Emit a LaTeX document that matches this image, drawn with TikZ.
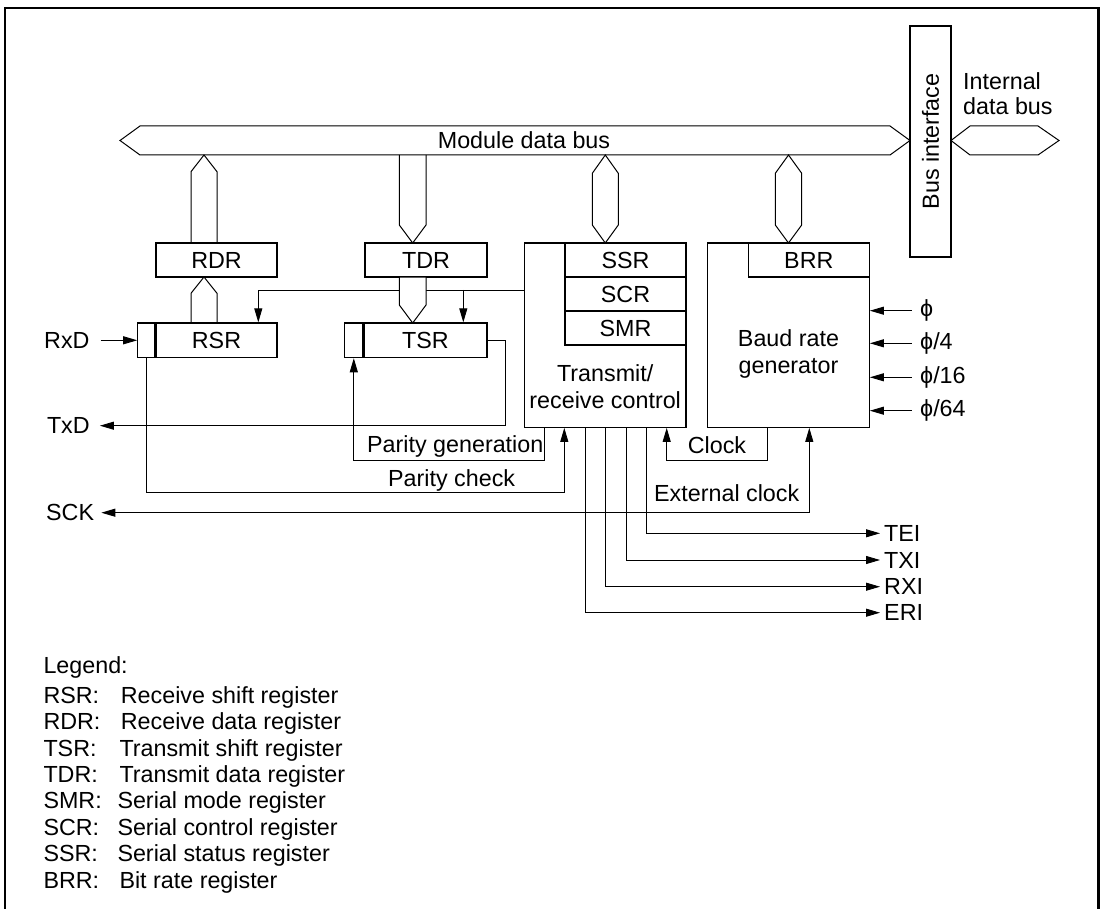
\documentclass[tikz,border=0pt]{standalone}
\usepackage{fontspec}
\setmainfont{Liberation Sans}
\usetikzlibrary{arrows.meta}
\begin{document}
\begin{tikzpicture}[x=1pt,y=-1pt,
  font=\fontsize{23.3}{27}\selectfont,
  box/.style={draw, line width=1.2pt, inner sep=0pt},
  lbl/.style={inner sep=0pt},
  conn/.style={line width=0.9pt},
  busl/.style={line width=1pt, fill=white},
  arr/.style={-{Triangle[length=14pt,width=8pt]}},
  darr/.style={{Triangle[length=14pt,width=8pt]}-{Triangle[length=14pt,width=8pt]}}]
\useasboundingbox (0,0) rectangle (1100,909);
\draw[line width=2.7pt] (5,8) rectangle (1098.7,911);

% ---- boxes
\node[box, minimum width=121pt, minimum height=34pt] (rdr) at (216.5,260) {RDR};
\node[box, minimum width=122pt, minimum height=34pt] (tdr) at (426,260) {TDR};
\node[box, minimum width=121pt, minimum height=34.7pt] (rsr) at (216.5,340.3) {RSR};
\node[box, anchor=east, minimum width=17pt, minimum height=34.7pt] (rsrin) at (rsr.west) {};
\node[box, minimum width=123pt, minimum height=34.7pt] (tsr) at (425.5,340.3) {TSR};
\node[box, anchor=east, minimum width=18pt, minimum height=34.7pt] (tsrin) at (tsr.west) {};
\node[box, minimum width=161.7pt, minimum height=184.3pt] (tr) at (605.15,335.15) {};
\node[box, minimum width=121pt, minimum height=34pt] (ssr) at (625.5,260) {SSR};
\node[box, minimum width=121pt, minimum height=34pt] (scr) at (625.5,294) {SCR};
\node[box, minimum width=121pt, minimum height=34pt] (smr) at (625.5,328) {SMR};
\node[box, minimum width=161.6pt, minimum height=184.3pt] (brg) at (788.5,335.15) {};
\node[box, minimum width=121pt, minimum height=34pt] (brr) at (808.8,260) {BRR};
\node[box, minimum width=41pt, minimum height=231pt] (busif) at (930.5,141.5) {};
\node[lbl, rotate=90] (busift) at (busif.center) {Bus interface};

\node[lbl, anchor=base] (tr1) at (605.2,381.7) {Transmit/};
\node[lbl, anchor=base] (tr2) at (605.2,408.3) {receive control};
\node[lbl, anchor=base] (br1) at (788.5,346.7) {Baud rate};
\node[lbl, anchor=base] (br2) at (788.5,373.3) {generator};

% ---- buses
\draw[busl] (120,140.5) -- (140,126) -- (890,126) -- (910,140.5) -- (890,155) -- (140,155) -- cycle;
\node[lbl, anchor=base] (mdb) at (524,149) {Module data bus};
\draw[busl] (951,140.5) -- (970,126) -- (1038,126) -- (1059,140.5) -- (1038,155) -- (970,155) -- cycle;
\node[lbl, anchor=base west] (idb1) at (963,90) {Internal};
\node[lbl, anchor=base west] (idb2) at (963,115) {data bus};

\draw[line width=1pt] (191,243) -- (191,171.7) -- (204,155) -- (217,171.7) -- (217,243);
\draw[line width=1pt] (191,323) -- (191,293.3) -- (204,277) -- (217,293.3) -- (217,323);
\draw[line width=1pt] (399.3,155) -- (399.3,225) -- (412.7,243) -- (426,225) -- (426,155);
\draw[busl] (605.3,155) -- (618.3,173.3) -- (618.3,225) -- (605.3,243) -- (592.3,225) -- (592.3,173.3) -- cycle;
\draw[busl] (788.5,155) -- (801.7,173.3) -- (801.7,225) -- (788.5,243) -- (775.3,225) -- (775.3,173.3) -- cycle;

% ---- control line to RSR / TSR
\coordinate (j1) at (258.3,290);
\coordinate (j2) at (463.3,290);
\draw[conn,arr] (tr.west |- j1) -- (j1) -- (j1 |- rsr.north);
\draw[conn,arr] (j2) -- (j2 |- tsr.north);
\fill[white] (399.3,277.6) -- (399.3,305) -- (412.7,322.7) -- (426,305) -- (426,277.6) -- cycle;
\draw[line width=1pt] (399.3,277) -- (399.3,305) -- (412.7,323) -- (426,305) -- (426,277);

% ---- RxD, TxD, SCK
\node[lbl, anchor=west] (rxd) at (44,340.3) {RxD};
\draw[conn,arr] ([xshift=11pt]rxd.east) -- (rsrin.west);
\node[lbl, anchor=west] (txd) at (46.8,425.7) {TxD};
\coordinate (txr) at (505.5,340.3);
\draw[conn,arr] (tsr.east) -- (txr) |- ([xshift=10pt]txd.east);
\node[lbl, anchor=west] (sck) at (46,512.7) {SCK};
\coordinate (ext) at (809.3,512.7);
\draw[conn,darr] ([xshift=7pt]sck.east) -- (ext) -- (ext |- brg.south);
\node[lbl, anchor=base west] (ect) at (654,501.7) {External clock};

% ---- parity
\coordinate (pc) at (564.3,492.7);
\draw[conn,arr] (rsrin.south) |- (pc) -- (pc |- tr.south);
\node[lbl, anchor=base west] (pct) at (388,486) {Parity check};
\coordinate (pg) at (544,460);
\draw[conn,arr] (pg |- tr.south) -- (pg) -| (tsrin.south);
\node[lbl, anchor=base west] (pgt) at (367,452) {Parity generation};

% ---- clock
\coordinate (ck1) at (767.3,460.7);
\coordinate (ck2) at (666.7,460.7);
\draw[conn,arr] (ck1 |- brg.south) -- (ck1) -- (ck2) -- (ck2 |- tr.south);
\node[lbl, anchor=base] (ckt) at (717,453.3) {Clock};

% ---- interrupts
\node[lbl, anchor=west] (tei) at (884,533.3) {TEI};
\node[lbl, anchor=west] (txi) at (884,560) {TXI};
\node[lbl, anchor=west] (rxi) at (884,586.7) {RXI};
\node[lbl, anchor=west] (eri) at (884,612.7) {ERI};
\coordinate (xtei) at (646.7,0);
\coordinate (xtxi) at (626,0);
\coordinate (xrxi) at (605.7,0);
\coordinate (xeri) at (585,0);
\draw[conn,arr] (xtei |- tr.south) |- ([xshift=-4pt]tei.west);
\draw[conn,arr] (xtxi |- tr.south) |- ([xshift=-4pt]txi.west);
\draw[conn,arr] (xrxi |- tr.south) |- ([xshift=-4pt]rxi.west);
\draw[conn,arr] (xeri |- tr.south) |- ([xshift=-4pt]eri.west);

% ---- clock inputs
\node[lbl, anchor=west] (p1) at (920,310.7) {ϕ};
\node[lbl, anchor=west] (p2) at (920,343.3) {ϕ/4};
\node[lbl, anchor=west] (p3) at (920,377.3) {ϕ/16};
\node[lbl, anchor=west] (p4) at (920,410.7) {ϕ/64};
\foreach \p in {p1,p2,p3,p4}
  \draw[conn,arr] ([xshift=-8.3pt]\p.west) -- (\p.west -| brg.east);

% ---- legend
\node[lbl, anchor=base west] (leg) at (43.3,673.3) {Legend:};
\foreach \ab/\tx/\dx [count=\i from 0] in {RSR:/Receive shift register/120.7,
    RDR:/Receive data register/120.7,
    TSR:/Transmit shift register/119.3,
    TDR:/Transmit data register/119.3,
    SMR:/Serial mode register/117.3,
    SCR:/Serial control register/117.3,
    SSR:/Serial status register/117.3,
    BRR:/Bit rate register/119.3}{
  \node[lbl, anchor=base west] (la\i) at (43.3,703.3+26.4*\i) {\ab};
  \node[lbl, anchor=base west] (lb\i) at (\dx,703.3+26.4*\i) {\tx};
}
\end{tikzpicture}
\end{document}
